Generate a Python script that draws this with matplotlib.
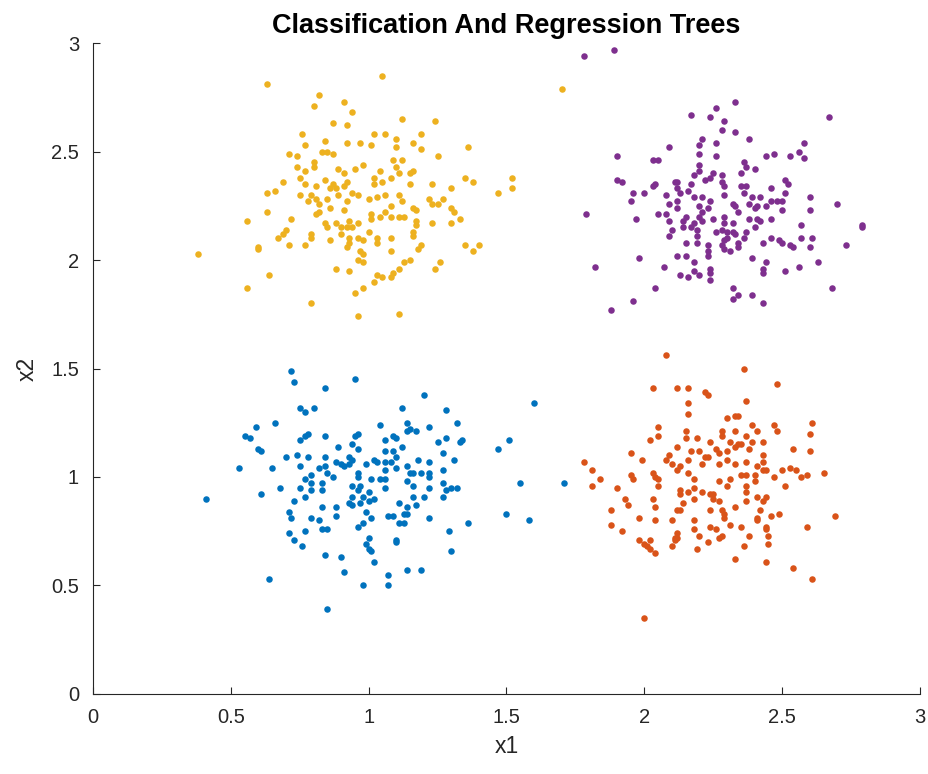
import matplotlib
matplotlib.use("Agg")
import matplotlib.pyplot as plt

# ---------------- data ----------------
yellow_pts = [
    (0.63,2.81),(0.71,2.49),(0.69,2.36),(0.66,2.32),(0.63,2.31),(0.63,2.22),(0.56,2.18),(0.72,2.19),
    (0.70,2.14),(0.69,2.12),(0.67,2.10),(0.71,2.07),(0.60,2.06),(0.60,2.05),(0.38,2.03),(0.64,1.93),
    (0.56,1.87),
    (1.05,2.85),(0.82,2.76),(0.80,2.71),(0.91,2.73),(0.94,2.68),(0.87,2.63),(0.92,2.62),(1.12,2.65),
    (1.02,2.58),(1.06,2.58),(0.76,2.58),(0.77,2.53),(0.84,2.55),(0.92,2.54),(0.97,2.54),(1.01,2.53),
    (1.10,2.56),(1.10,2.52),(0.83,2.50),(0.85,2.50),(0.87,2.49),(0.74,2.48),(0.80,2.45),(0.80,2.43),
    (0.74,2.43),(0.89,2.42),(0.91,2.40),(0.95,2.42),(0.98,2.44),(1.04,2.41),(1.09,2.46),(1.12,2.46),
    (1.10,2.43),(1.11,2.40),(0.75,2.38),(0.77,2.41),(0.77,2.35),(0.84,2.37),(0.87,2.35),(0.92,2.36),
    (1.02,2.38),(1.05,2.36),(1.08,2.38),(0.81,2.34),(0.91,2.34),(1.02,2.35),(0.75,2.30),(0.79,2.30),
    (0.86,2.33),(0.88,2.33),(0.89,2.30),(0.94,2.31),(0.96,2.30),(1.00,2.28),(1.03,2.29),(1.06,2.30),
    (1.11,2.30),(0.78,2.27),(0.81,2.28),(0.85,2.28),(0.82,2.26),(0.92,2.27),(1.12,2.27),(0.86,2.24),
    (0.91,2.23),(1.08,2.25),(1.06,2.22),(0.82,2.22),(0.81,2.21),(1.01,2.21),(1.04,2.20),(1.08,2.20),
    (1.11,2.20),(1.13,2.20),(1.01,2.19),(0.84,2.17),(0.88,2.17),(0.93,2.18),(0.96,2.17),(0.85,2.15),
    (0.90,2.15),(0.92,2.15),(0.94,2.15),(1.00,2.13),(0.90,2.12),(0.79,2.12),(0.79,2.10),(0.93,2.10),
    (0.96,2.10),(0.98,2.09),(1.03,2.10),(1.08,2.10),(0.86,2.09),(0.93,2.08),(1.03,2.08),(0.77,2.07),
    (0.92,2.06),(0.97,2.04),(0.98,2.03),(1.08,2.04),(0.96,2.00),(0.98,1.99),(0.88,1.96),(0.93,1.95),
    (1.11,1.96),(1.09,1.94),(1.05,1.92),(1.03,1.93),(1.02,1.90),(1.08,1.92),(0.98,1.87),(0.95,1.85),
    (0.79,1.80),(0.96,1.74),(1.11,1.75),
    (1.70,2.79),(1.24,2.64),(1.19,2.58),(1.16,2.54),(1.19,2.51),(1.25,2.48),(1.36,2.52),(1.15,2.40),
    (1.16,2.41),(1.15,2.35),(1.23,2.35),(1.35,2.38),(1.38,2.36),(1.52,2.38),(1.52,2.33),(1.47,2.31),
    (1.30,2.33),(1.22,2.28),(1.23,2.26),(1.25,2.26),(1.27,2.28),(1.16,2.24),(1.17,2.23),(1.30,2.24),
    (1.31,2.22),(1.17,2.18),(1.23,2.17),(1.30,2.17),(1.33,2.19),(1.17,2.16),(1.16,2.13),(1.16,2.11),
    (1.19,2.07),(1.18,2.05),(1.35,2.07),(1.40,2.07),(1.38,2.04),(1.13,1.99),(1.15,2.00),(1.26,1.99),
    (1.24,1.96),
]
purple_pts = [
    (1.78,2.94),(1.89,2.97),(2.09,2.52),(1.90,2.48),(2.03,2.46),(2.05,2.46),(1.90,2.37),(1.92,2.36),
    (2.11,2.36),(2.04,2.35),(2.03,2.34),(2.00,2.31),(1.96,2.31),(2.08,2.30),(1.95,2.27),(2.09,2.26),
    (1.79,2.21),(2.05,2.21),(2.08,2.21),(1.97,2.19),(2.09,2.18),(2.10,2.14),(2.09,2.11),(1.98,2.01),
    (1.82,1.97),(2.07,1.97),(2.04,1.87),(1.96,1.81),(1.88,1.77),
    (2.33,2.73),(2.26,2.70),(2.17,2.67),(2.24,2.66),(2.29,2.64),(2.28,2.60),(2.33,2.59),(2.38,2.56),
    (2.21,2.56),(2.26,2.54),(2.20,2.53),(2.20,2.49),(2.26,2.48),(2.44,2.48),(2.20,2.44),(2.36,2.45),
    (2.37,2.43),(2.40,2.42),(2.35,2.40),(2.18,2.39),(2.20,2.41),(2.24,2.38),(2.25,2.40),(2.28,2.39),
    (2.12,2.36),(2.22,2.37),(2.28,2.36),(2.17,2.35),(2.35,2.34),(2.12,2.33),(2.29,2.34),(2.16,2.32),
    (2.37,2.34),(2.13,2.31),(2.36,2.31),(2.18,2.29),(2.21,2.29),(2.29,2.30),(2.39,2.29),(2.42,2.29),
    (2.24,2.27),(2.12,2.27),(2.20,2.25),(2.32,2.26),(2.38,2.26),(2.41,2.25),(2.33,2.25),(2.12,2.24),
    (2.23,2.24),(2.40,2.24),(2.21,2.22),(2.34,2.22),(2.29,2.20),(2.20,2.20),(2.15,2.20),(2.25,2.19),
    (2.38,2.19),(2.41,2.19),(2.14,2.18),(2.18,2.17),(2.21,2.18),(2.32,2.17),(2.29,2.17),(2.42,2.18),
    (2.14,2.15),(2.17,2.15),(2.19,2.14),(2.26,2.13),(2.28,2.14),(2.30,2.13),(2.32,2.13),(2.40,2.15),
    (2.33,2.12),(2.37,2.13),(2.36,2.10),(2.19,2.11),(2.19,2.08),(2.29,2.09),(2.30,2.10),(2.34,2.08),
    (2.15,2.08),(2.28,2.07),(2.23,2.07),(2.29,2.05),(2.34,2.06),(2.43,2.08),(2.23,2.04),(2.31,2.04),
    (2.12,2.02),(2.15,2.02),(2.23,2.02),(2.39,2.01),(2.18,1.99),(2.44,1.99),(2.18,1.95),(2.24,1.96),
    (2.43,1.96),(2.13,1.93),(2.16,1.92),(2.20,1.93),(2.24,1.94),(2.24,1.91),(2.43,1.94),(2.32,1.87),
    (2.34,1.84),(2.32,1.82),(2.39,1.84),(2.43,1.80),
    (2.67,2.66),(2.58,2.54),(2.47,2.49),(2.53,2.48),(2.56,2.50),(2.58,2.47),(2.51,2.37),(2.52,2.35),
    (2.46,2.33),(2.51,2.31),(2.60,2.29),(2.70,2.26),(2.46,2.27),(2.48,2.27),(2.50,2.27),(2.44,2.25),
    (2.50,2.23),(2.60,2.23),(2.46,2.19),(2.57,2.16),(2.79,2.16),(2.79,2.15),(2.46,2.10),(2.49,2.09),
    (2.50,2.08),(2.57,2.10),(2.61,2.10),(2.53,2.07),(2.54,2.06),(2.60,2.06),(2.73,2.07),(2.63,1.99),
    (2.56,1.97),(2.51,1.95),(2.68,1.87),
]
blue_pts = [
    (0.72,1.49),(0.73,1.44),(0.75,1.32),(0.77,1.30),(0.80,1.32),(0.66,1.25),(0.59,1.23),(0.55,1.19),
    (0.57,1.18),(0.78,1.20),(0.77,1.19),(0.75,1.17),(0.60,1.13),(0.61,1.12),(0.70,1.09),(0.74,1.10),
    (0.78,1.09),(0.53,1.04),(0.65,1.04),(0.75,1.05),(0.79,1.01),(0.77,0.99),(0.68,0.95),(0.75,0.95),
    (0.79,0.94),(0.41,0.90),(0.61,0.92),(0.73,0.89),(0.77,0.91),(0.71,0.84),(0.72,0.81),(0.79,0.81),
    (0.77,0.75),(0.71,0.74),(0.73,0.71),(0.76,0.68),(0.64,0.53),
    (0.95,1.45),(0.84,1.41),(1.20,1.38),(1.12,1.32),(1.14,1.25),(1.15,1.22),(1.17,1.21),(1.04,1.24),
    (1.14,1.21),(0.96,1.20),(0.95,1.19),(0.84,1.19),(1.09,1.19),(1.10,1.18),(1.06,1.17),(0.89,1.14),
    (0.94,1.15),(0.96,1.13),(1.12,1.14),(1.09,1.12),(1.06,1.12),(0.93,1.09),(0.94,1.08),(0.84,1.09),
    (1.02,1.08),(1.03,1.07),(1.10,1.09),(1.18,1.08),(0.88,1.07),(0.90,1.06),(0.91,1.05),(0.99,1.06),
    (1.06,1.07),(1.08,1.07),(0.84,1.05),(0.82,1.04),(0.93,1.06),(1.06,1.03),(1.14,1.05),(1.10,1.04),
    (0.85,1.02),(0.96,1.02),(1.15,1.02),(1.16,1.02),(1.19,1.02),(1.22,1.02),(0.87,1.00),(1.01,0.99),
    (1.04,0.99),(1.06,0.99),(0.96,1.00),(1.14,0.98),(1.16,0.96),(0.83,0.97),(0.94,0.96),(0.97,0.96),
    (0.79,0.97),(0.83,0.94),(0.96,0.94),(1.06,0.95),(1.22,0.95),(1.00,0.93),(1.16,0.91),(1.20,0.91),
    (0.94,0.91),(0.98,0.91),(1.02,0.90),(0.93,0.88),(0.94,0.87),(0.97,0.88),(1.00,0.89),(1.11,0.88),
    (1.17,0.87),(0.83,0.86),(0.88,0.86),(1.14,0.86),(0.99,0.84),(0.88,0.82),(1.07,0.82),(1.09,0.82),
    (1.13,0.83),(1.14,0.83),(1.22,0.81),(0.82,0.80),(1.01,0.81),(1.11,0.79),(1.13,0.79),(0.98,0.79),
    (0.83,0.76),(0.85,0.76),(0.96,0.77),(1.00,0.72),(1.10,0.71),(1.10,0.70),(0.99,0.69),(1.00,0.67),
    (1.01,0.66),(0.84,0.64),(0.90,0.63),(1.02,0.61),(0.91,0.56),(1.14,0.57),(1.19,0.57),(1.07,0.55),
    (0.98,0.50),(1.07,0.50),(0.85,0.39),
    (1.60,1.34),(1.28,1.31),(1.32,1.25),(1.22,1.23),(1.25,1.16),(1.28,1.18),(1.33,1.16),(1.34,1.17),
    (1.51,1.17),(1.47,1.13),(1.27,1.11),(1.31,1.08),(1.22,1.07),(1.27,1.03),(1.22,1.00),(1.27,0.97),
    (1.55,0.97),(1.71,0.97),(1.28,0.94),(1.30,0.95),(1.32,0.95),(1.27,0.91),(1.36,0.79),(1.50,0.83),
    (1.58,0.80),(1.29,0.75),(1.30,0.66),
]
orange_pts = [
    (2.08,1.56),(2.03,1.41),(2.12,1.41),(2.16,1.41),(2.16,1.34),(2.16,1.29),(2.05,1.23),(2.05,1.19),
    (2.02,1.17),(2.15,1.21),(2.15,1.18),(2.19,1.18),(2.12,1.14),(1.95,1.11),(1.99,1.08),(2.09,1.10),
    (2.08,1.08),(2.10,1.06),(2.16,1.08),(2.17,1.12),(2.20,1.12),(1.78,1.07),(1.81,1.03),(1.84,0.99),
    (1.81,0.96),(1.95,1.01),(1.96,0.99),(2.03,1.02),(2.04,1.00),(2.05,0.99),(2.12,1.03),(2.13,1.05),
    (2.16,1.02),(2.18,0.99),(2.05,0.96),(1.90,0.95),(2.13,0.94),(2.16,0.93),(2.18,0.95),(2.13,0.92),
    (2.18,0.90),(1.93,0.90),(1.94,0.87),(2.03,0.90),(2.14,0.88),(1.88,0.85),(2.04,0.86),(2.12,0.85),
    (2.13,0.85),(1.98,0.81),(2.04,0.80),(2.10,0.80),(2.18,0.80),(1.88,0.78),(1.92,0.75),(2.18,0.76),
    (2.12,0.74),(2.11,0.72),(2.12,0.72),(2.20,0.73),(1.98,0.71),(2.02,0.71),(2.11,0.71),(2.00,0.69),
    (2.01,0.68),(2.10,0.68),(2.02,0.67),(2.04,0.65),(2.19,0.67),(2.00,0.35),
    (2.36,1.50),(2.48,1.43),(2.22,1.39),(2.23,1.38),(2.37,1.35),(2.30,1.27),(2.33,1.28),(2.34,1.28),
    (2.39,1.24),(2.47,1.24),(2.61,1.25),(2.28,1.21),(2.33,1.21),(2.41,1.21),(2.48,1.21),(2.60,1.20),
    (2.28,1.19),(2.37,1.19),(2.24,1.16),(2.31,1.16),(2.35,1.15),(2.39,1.16),(2.43,1.16),(2.26,1.13),
    (2.33,1.14),(2.34,1.15),(2.38,1.13),(2.54,1.13),(2.60,1.12),(2.27,1.11),(2.30,1.12),(2.22,1.09),
    (2.23,1.09),(2.30,1.08),(2.33,1.06),(2.37,1.07),(2.43,1.10),(2.43,1.07),(2.27,1.06),(2.21,1.06),
    (2.41,1.05),(2.43,1.03),(2.44,1.03),(2.50,1.03),(2.53,1.04),(2.55,1.03),(2.35,1.01),(2.37,1.01),
    (2.40,1.01),(2.47,1.00),(2.57,1.00),(2.59,1.01),(2.65,1.02),(2.31,0.99),(2.40,0.98),(2.27,0.98),
    (2.30,0.96),(2.37,0.96),(2.51,0.96),(2.21,0.93),(2.24,0.92),(2.25,0.92),(2.37,0.93),(2.41,0.91),
    (2.44,0.91),(2.25,0.90),(2.27,0.89),(2.37,0.89),(2.43,0.89),(2.33,0.86),(2.24,0.85),(2.28,0.85),
    (2.42,0.85),(2.29,0.83),(2.46,0.82),(2.49,0.83),(2.69,0.82),(2.29,0.81),(2.41,0.80),(2.41,0.81),
    (2.31,0.78),(2.24,0.77),(2.26,0.76),(2.35,0.77),(2.44,0.77),(2.44,0.76),(2.59,0.77),(2.28,0.73),
    (2.38,0.73),(2.27,0.72),(2.45,0.73),(2.23,0.70),(2.36,0.68),(2.45,0.69),(2.33,0.62),(2.44,0.61),
    (2.54,0.58),(2.61,0.53),
]

groups = [
    ("blue", blue_pts, "#0072BD"),
    ("orange", orange_pts, "#D95319"),
    ("yellow", yellow_pts, "#EDB120"),
    ("purple", purple_pts, "#7E2F8E"),
]

title_text = "Classification And Regression Trees"
xlabel_text = "x1"
ylabel_text = "x2"
xticks = [0, 0.5, 1, 1.5, 2, 2.5, 3]
yticks = [0, 0.5, 1, 1.5, 2, 2.5, 3]
tick_labels = ["0", "0.5", "1", "1.5", "2", "2.5", "3"]

# ---------------- figure ----------------
plt.rcParams["font.family"] = ["Liberation Sans", "DejaVu Sans"]
fig = plt.figure(figsize=(9.29, 7.74), dpi=100)
ax = fig.add_axes([0.1001, 0.1034, 0.8902, 0.841])

for name, pts, col in groups:
    xs = [p[0] for p in pts]
    ys = [p[1] for p in pts]
    ax.scatter(xs, ys, s=22, c=col, marker="o", linewidths=0, zorder=3)

ax.set_xlim(0, 3)
ax.set_ylim(0, 3)
ax.set_xticks(xticks)
ax.set_yticks(yticks)
ax.set_xticklabels(tick_labels)
ax.set_yticklabels(tick_labels)

axis_col = "#262626"
for side in ["top", "right"]:
    ax.spines[side].set_visible(False)
for side in ["left", "bottom"]:
    ax.spines[side].set_color(axis_col)
    ax.spines[side].set_linewidth(0.8)
ax.tick_params(direction="in", length=5, width=0.8, colors=axis_col,
               labelsize=14.5, pad=10)

ax.set_title(title_text, fontsize=19.5, fontweight="bold", color="black", pad=7)
ax.set_xlabel(xlabel_text, fontsize=16.5, color=axis_col, labelpad=6)
ax.set_ylabel(ylabel_text, fontsize=16.5, color=axis_col, labelpad=9)

fig.savefig("out.png", dpi=100, facecolor="white")
